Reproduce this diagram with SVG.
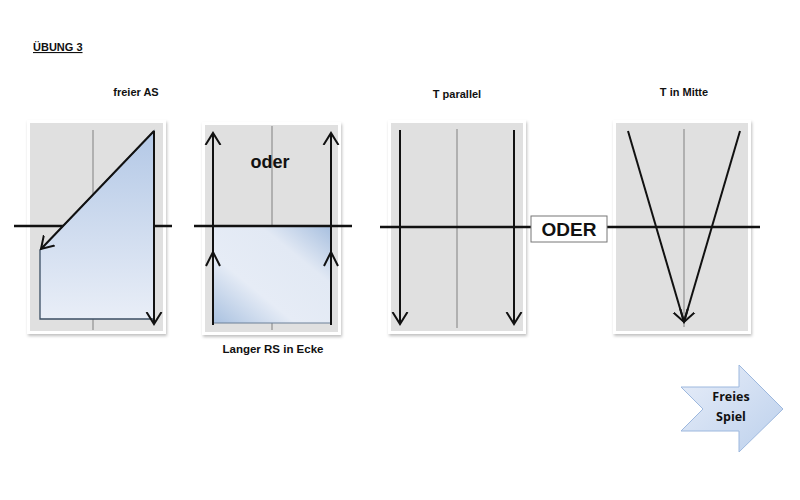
<svg xmlns="http://www.w3.org/2000/svg" width="800" height="500" viewBox="0 0 800 500">
<style>
.t{font-family:"Liberation Sans",Arial,sans-serif;font-weight:bold;fill:#111}
.frame{fill:#fff;filter:url(#sh)}
.bg{fill:#e0e0e0}
.mid{stroke:#808080;stroke-width:1;fill:none}
.ax{stroke:#111;stroke-width:2.5;fill:none}
.ar{stroke:#111;stroke-width:2;fill:none}
</style>
<defs>
<filter id="sh" x="-10%" y="-10%" width="130%" height="130%">
<feDropShadow dx="1" dy="2" stdDeviation="1.5" flood-color="#000" flood-opacity="0.25"/>
</filter>
<linearGradient id="g1" x1="0" y1="0" x2="0" y2="1">
<stop offset="0" stop-color="#b3c8e6"/><stop offset="1" stop-color="#e9eef7"/>
</linearGradient>
<linearGradient id="g2" x1="0" y1="1" x2="1" y2="0">
<stop offset="0" stop-color="#a9c1e0"/><stop offset="0.35" stop-color="#e6ecf6"/><stop offset="0.7" stop-color="#e2e9f4"/><stop offset="1" stop-color="#a7bfdf"/>
</linearGradient>
<linearGradient id="g3" x1="0" y1="0" x2="1" y2="1">
<stop offset="0" stop-color="#e8eef9"/><stop offset="1" stop-color="#bcd0ec"/>
</linearGradient>
<marker id="ah" markerUnits="userSpaceOnUse" markerWidth="24" markerHeight="24" refX="12" refY="12" orient="auto" viewBox="0 0 24 24">
<path d="M0,4.5 L12,12 L0,19.5" fill="none" stroke="#111" stroke-width="2"/>
</marker>
</defs>
<rect width="800" height="500" fill="#fff"/>

<text class="t" x="33" y="51" font-size="11" text-decoration="underline">ÜBUNG 3</text>
<text class="t" x="136" y="96" font-size="11" text-anchor="middle">freier AS</text>
<text class="t" x="457" y="98" font-size="11" text-anchor="middle">T parallel</text>
<text class="t" x="684" y="96" font-size="11" text-anchor="middle">T in Mitte</text>

<g id="panel1">
<rect class="frame" x="27" y="120" width="139" height="214"/>
<rect class="bg" x="30" y="123" width="133" height="208"/>
<line class="mid" x1="93" y1="130" x2="93" y2="330"/>
<line class="ax" x1="14" y1="226" x2="172" y2="226"/>
<polygon points="154,131 40,250 40,319 154,319" fill="url(#g1)" stroke="#3b4e63" stroke-width="1.3"/>
<line class="ar" x1="154" y1="131" x2="41" y2="249" marker-end="url(#ah)"/>
<line class="ar" x1="154" y1="131" x2="154" y2="324" marker-end="url(#ah)"/>
</g>

<g id="panel2">
<rect class="frame" x="202" y="122" width="139" height="213"/>
<rect class="bg" x="205" y="125" width="133" height="207"/>
<line class="mid" x1="272" y1="126" x2="272" y2="330"/>
<rect x="213" y="226" width="118" height="97" fill="url(#g2)" stroke="#6d8098" stroke-width="1"/>
<line class="ax" x1="194" y1="226" x2="352" y2="226"/>
<line class="ar" x1="213" y1="325" x2="213" y2="133" marker-end="url(#ah)"/>
<line class="ar" x1="331" y1="325" x2="331" y2="133" marker-end="url(#ah)"/>
<polyline class="ar" points="206,266 213,252 220,266"/>
<polyline class="ar" points="324,266 331,252 338,266"/>
<text class="t" x="270" y="168" font-size="18" text-anchor="middle">oder</text>
<text class="t" x="273" y="353" font-size="11.5" text-anchor="middle">Langer RS in Ecke</text>
</g>

<g id="panel3">
<rect class="frame" x="388" y="120" width="138" height="214"/>
<rect class="bg" x="391" y="123" width="132" height="208"/>
<line class="mid" x1="457" y1="129" x2="457" y2="328"/>
<line class="ar" x1="400" y1="130" x2="400" y2="324" marker-end="url(#ah)"/>
<line class="ar" x1="514" y1="130" x2="514" y2="324" marker-end="url(#ah)"/>
</g>

<g id="panel4">
<rect class="frame" x="613" y="120" width="138" height="214"/>
<rect class="bg" x="616" y="123" width="132" height="208"/>
<line class="mid" x1="684" y1="129" x2="684" y2="327"/>
<line class="ar" x1="628" y1="131" x2="684" y2="322" marker-end="url(#ah)"/>
<line class="ar" x1="740" y1="131" x2="684" y2="322" marker-end="url(#ah)"/>
</g>

<g id="axis">
<line class="ax" x1="380" y1="227" x2="760" y2="227"/>
</g>

<g id="oder">
<rect x="531" y="216" width="76" height="26" fill="#fff" stroke="#777" stroke-width="1"/>
<text class="t" x="569" y="236" font-size="19" text-anchor="middle">ODER</text>
</g>

<g id="freies-spiel">
<polygon points="681,387 739,387 739,365 783,409 739,452 739,431 681,431 703,409" fill="url(#g3)" stroke="#9db8de" stroke-width="1"/>
<text class="t" x="731" y="401" font-size="12.5" text-anchor="middle" style="font-family:'Open Sans','Liberation Sans',sans-serif">Freies</text>
<text class="t" x="731" y="421" font-size="12.5" text-anchor="middle" style="font-family:'Open Sans','Liberation Sans',sans-serif">Spiel</text>
</g>
</svg>
